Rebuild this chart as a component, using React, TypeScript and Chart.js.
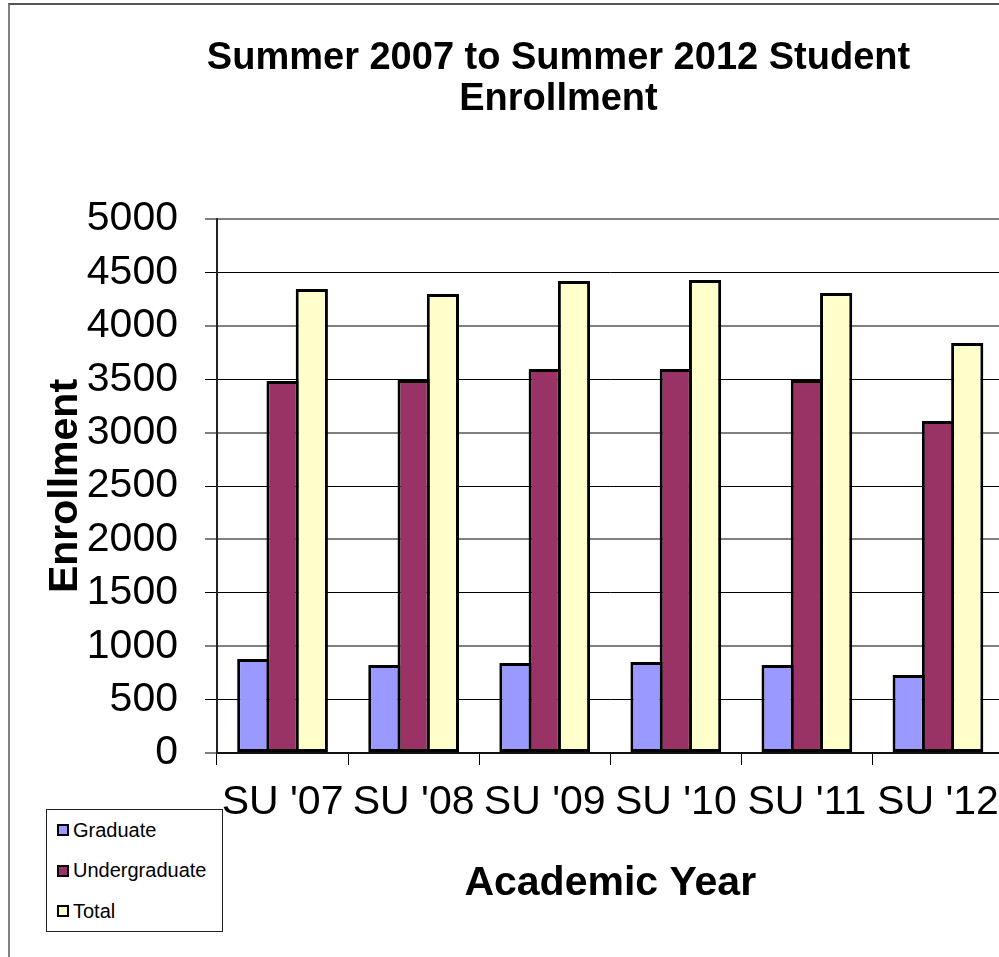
import React, { useEffect, useRef } from "react";
import { Chart, registerables } from "chart.js";

Chart.register(...registerables);

const categories = ["SU '07", "SU '08", "SU '09", "SU '10", "SU '11", "SU '12"];
const graduate = [880, 824, 843, 852, 824, 730];
const undergraduate = [3483, 3492, 3596, 3596, 3492, 3109];
const total = [4345, 4298, 4419, 4429, 4307, 3839];
const seriesNames = ["Graduate", "Undergraduate", "Total"];
const seriesColors = ["#9999FF", "#993366", "#FFFFCC"];
const titleLines = ["Summer 2007 to Summer 2012 Student", "Enrollment"];
const yTitle = "Enrollment";
const xTitle = "Academic Year";

const FONT = "'Liberation Sans', Arial, sans-serif";

export default function App() {
  const ref = useRef<HTMLCanvasElement | null>(null);

  useEffect(() => {
    if (!ref.current) return;
    const values = [graduate, undergraduate, total];
    const chart = new Chart(ref.current, {
      type: "bar",
      data: {
        labels: categories,
        datasets: values.map((v, i) => ({
          label: seriesNames[i],
          data: v,
          backgroundColor: seriesColors[i],
          borderColor: "#000",
          borderWidth: 3,
          borderSkipped: false,
          categoryPercentage: 0.67,
          barPercentage: 1.1,
          yAxisID: "y",
        })),
      },
      options: {
        responsive: false,
        animation: false,
        devicePixelRatio: 1,
        layout: { padding: 0 },
        plugins: {
          legend: { display: false },
          tooltip: { enabled: false },
          title: {
            display: true,
            text: titleLines,
            color: "#000",
            font: { family: FONT, size: 38, weight: "bold", lineHeight: 1.079 },
            padding: { top: 38, bottom: 99 },
          },
        },
        scales: {
          x: {
            offset: true,
            afterFit: (s: any) => {
              s.height = 247;
            },
            grid: {
              offset: true,
              drawOnChartArea: false,
              tickLength: 12,
              color: "#000",
              lineWidth: 1,
            },
            border: { display: true, color: "#111", width: 2 },
            ticks: {
              color: "#000",
              padding: 13,
              maxRotation: 0,
              autoSkip: false,
              font: { family: FONT, size: 41 },
            },
            title: {
              display: true,
              text: xTitle,
              color: "#000",
              font: { family: FONT, size: 41, weight: "bold", lineHeight: 1.2 },
              padding: { top: 0, bottom: 92 },
            },
          },
          y: {
            position: "left",
            min: 0,
            max: 5000,
            afterFit: (s: any) => {
              s.width = 217;
            },
            grid: {
              tickLength: 12,
              color: (c: any) => (c.index % 2 === 0 ? "#808080" : "#000"),
              lineWidth: (c: any) => (c.index % 2 === 0 ? 2 : 1),
              tickColor: "#000",
              tickWidth: 1,
            },
            border: { display: true, color: "#222", width: 2 },
            ticks: {
              stepSize: 500,
              color: "#000",
              padding: 27,
              font: { family: FONT, size: 41 },
              callback: (v: any) => String(v),
            },
            title: {
              display: true,
              text: yTitle,
              color: "#000",
              font: { family: FONT, size: 41, weight: "bold", lineHeight: 1.2 },
              padding: { top: 41, bottom: 0 },
            },
          },
          yR: {
            position: "right",
            type: "linear",
            display: true,
            afterFit: (s: any) => {
              s.width = 113.5;
            },
            grid: { display: false, drawTicks: false },
            border: { display: false },
            ticks: { display: false },
          },
        },
      },
    } as any);
    return () => chart.destroy();
  }, []);

  return (
    <div
      style={{
        position: "fixed",
        left: 0,
        top: 0,
        width: 999,
        height: 957,
        overflow: "hidden",
        background: "#fff",
      }}
    >
      <canvas
        ref={ref}
        width={1117}
        height={1000}
        style={{ position: "absolute", left: 0, top: 0, width: 1117, height: 1000 }}
      />
      <div
        style={{
          position: "absolute",
          left: 8,
          top: 3,
          width: 1300,
          height: 1300,
          borderLeft: "2px solid #808080",
          borderTop: "2px solid #555",
          pointerEvents: "none",
        }}
      />
      <div
        style={{
          position: "absolute",
          left: 46,
          top: 809,
          width: 175,
          height: 121,
          border: "1px solid #222",
          background: "#fff",
          fontFamily: FONT,
          fontSize: 20,
          color: "#000",
        }}
      >
        {seriesNames.map((name, i) => (
          <div
            key={name}
            style={{
              position: "absolute",
              left: 10,
              top: 8 + i * 40.5,
              height: 24,
              display: "flex",
              alignItems: "center",
              whiteSpace: "nowrap",
            }}
          >
            <span
              style={{
                display: "inline-block",
                width: 8,
                height: 8,
                border: "2px solid #000",
                background: seriesColors[i],
                marginRight: 4,
              }}
            />
            <span>{name}</span>
          </div>
        ))}
      </div>
    </div>
  );
}
